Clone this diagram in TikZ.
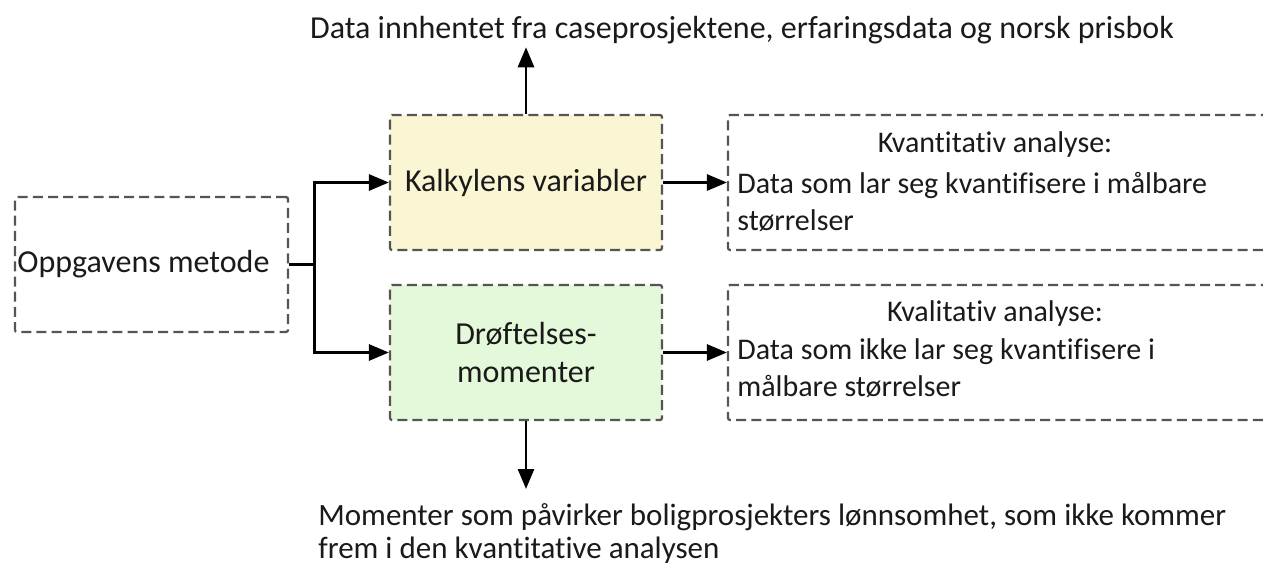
\documentclass[tikz,border=0pt]{standalone}
\usepackage{fontspec}
\setmainfont{Carlito}[Ligatures=NoCommon]
\usetikzlibrary{arrows.meta}
\definecolor{boxline}{HTML}{555555}
\definecolor{calcfill}{HTML}{FAF5D2}
\definecolor{discfill}{HTML}{E4F8DA}
\definecolor{ink}{HTML}{1A1A1A}
\tikzset{
  dbox/.style={draw=boxline, line width=1.1pt, dash pattern=on 5pt off 2.6pt,
    rounded corners=1pt, minimum height=67.5pt, inner sep=0pt},
  flow/.style={line width=1.4pt, -{Triangle[length=10pt,width=8pt]}},
  lbl/.style={font=\fontsize{15}{18.5}\selectfont, inner sep=0pt, text=ink},
  boxlbl/.style={font=\fontsize{16}{19}\selectfont, inner sep=0pt, text=ink},
}
\begin{document}
\begin{tikzpicture}[x=0.5pt,y=-0.5pt]
\clip (0,0) rectangle (1263,562);
\fill[white] (0,0) rectangle (1263,562);

% boxes
\node[dbox, minimum width=136.5pt] (A) at (151.5,264.5) {};
\node[boxlbl, anchor=west] (At) at (17,264.5) {Oppgavens metode};
\node[dbox, boxlbl, fill=calcfill, minimum width=136pt, align=center]
  (B) at (526,182.5) {Kalkylens variabler};
\node[dbox, boxlbl, fill=discfill, minimum width=136pt, align=center]
  (C) at (526,352.5) {Drøftelses-\\momenter};
\node[dbox, minimum width=280pt] (D) at (1008,182.5) {};
\node[dbox, minimum width=280pt] (E) at (1008,352.5) {};

% texts in the analysis boxes
\node[lbl] (Dt) at (995,145) {Kvantitativ analyse:};
\node[lbl, anchor=west, align=left] (Db) at (737,201.5)
  {Data som lar seg kvantifisere i målbare\\størrelser};
\node[lbl] (Et) at (995,313) {Kvalitativ analyse:};
\node[lbl, anchor=west, align=left] (Eb) at (737,368.5)
  {Data som ikke lar seg kvantifisere i\\målbare størrelser};

% outer texts
\node[lbl, font=\fontsize{16}{19}\selectfont] (T) at (742,30)
  {Data innhentet fra caseprosjektene, erfaringsdata og norsk prisbok};
\node[lbl, font=\fontsize{15.5}{16.5}\selectfont, anchor=north west, align=left] (M) at (318,503)
  {Momenter som påvirker boligprosjekters lønnsomhet, som ikke kommer\\frem i den kvantitative analysen};

% connectors
\draw[line width=1.4pt] (A.east) -- ++(25,0) coordinate (fork);
\draw[flow] (fork) |- (B.west);
\draw[flow] (fork) |- (C.west);
\draw[flow] (B.east) -- (B.east -| D.west);
\draw[flow] (C.east) -- (C.east -| E.west);
\draw[flow, shorten >=1.5pt] (B.north) -- (B.north |- T.south);
\draw[flow, shorten >=7pt] (C.south) -- (C.south |- M.north);
\end{tikzpicture}
\end{document}
